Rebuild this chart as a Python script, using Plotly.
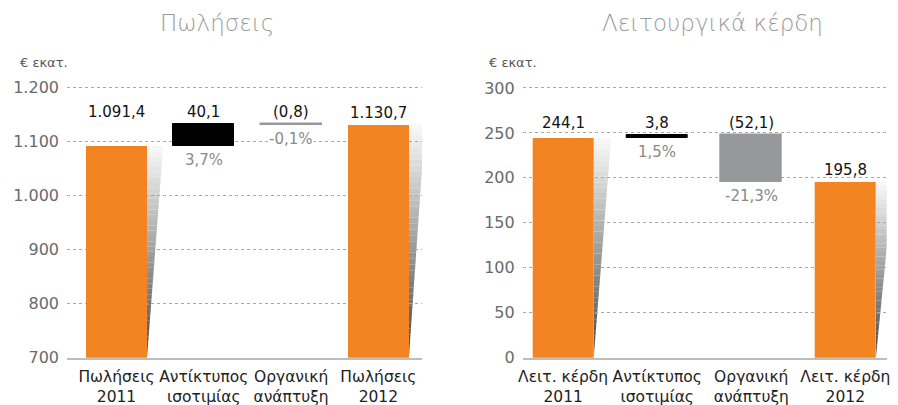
import plotly.graph_objects as go

# ---------------- data ----------------
sales_categories = ["Πωλήσεις<br>2011", "Αντίκτυπος<br>ισοτιμίας", "Οργανική<br>ανάπτυξη", "Πωλήσεις<br>2012"]
sales_start = 1091.4
sales_deltas = [40.1, -0.8]
sales_end = 1130.7
sales_pct = ["3,7%", "-0,1%"]
sales_ticks = [700, 800, 900, 1000, 1100, 1200]
sales_ticktext = ["700", "800", "900", "1.000", "1.100", "1.200"]

profit_categories = ["Λειτ. κέρδη<br>2011", "Αντίκτυπος<br>ισοτιμίας", "Οργανική<br>ανάπτυξη", "Λειτ. κέρδη<br>2012"]
profit_start = 244.1
profit_deltas = [3.8, -52.1]
profit_end = 195.8
profit_pct = ["1,5%", "-21,3%"]
profit_ticks = [0, 50, 100, 150, 200, 250, 300]
profit_ticktext = ["0", "50", "100", "150", "200", "250", "300"]

titles = ["Πωλήσεις", "Λειτουργικά κέρδη"]
unit_label = "€ εκατ."

# ---------------- styles ----------------
ORANGE = "#F28422"
BLACK = "#000000"
GREY = "#97989b"
FONT = "DejaVu Sans"


def fmt(v):
    s = f"{abs(v):,.1f}".replace(",", "X").replace(".", ",").replace("X", ".")
    return s


fig = go.Figure()

panels = [
    dict(start=sales_start, deltas=sales_deltas, end=sales_end, pct=sales_pct,
         cats=sales_categories, ticks=sales_ticks, ticktext=sales_ticktext,
         yrange=[700, 1215], xrange=[-0.567, 3.5], width=0.70,
         xdom=[67 / 898, 422 / 898], xa="x", ya="y", title=titles[0],
         title_x=217 / 898, unit_x=18 / 898),
    dict(start=profit_start, deltas=profit_deltas, end=profit_end, pct=profit_pct,
         cats=profit_categories, ticks=profit_ticks, ticktext=profit_ticktext,
         yrange=[0, 310], xrange=[-0.43, 3.44], width=0.65,
         xdom=[522.7 / 898, 886.7 / 898], xa="x2", ya="y2", title=titles[1],
         title_x=712 / 898, unit_x=487 / 898),
]

ydom = [1 - 357.7 / 405, 1 - 79 / 405]
shapes = []
annotations = []

for i, p in enumerate(panels):
    d1, d2 = p["deltas"]
    ys = [p["start"], d1, d2, p["end"]]
    bases = [0, p["start"], p["start"] + d1, 0]
    xs = [0, 1, 2, 3]
    colors = [ORANGE, BLACK, GREY, ORANGE]
    lw = [0, 1, 1.4, 0]
    fig.add_trace(go.Bar(
        x=xs, y=ys, base=bases, width=p["width"],
        marker=dict(color=colors, line=dict(color=colors, width=lw)),
        xaxis=p["xa"], yaxis=p["ya"], showlegend=False, hoverinfo="skip",
    ))

    xref = p["xa"]
    yref = p["ya"]
    ymin = p["yrange"][0]

    # shadow wedges to the right of the total bars
    for k in (0, 3):
        top = bases[k] + ys[k]
        xr = xs[k] + p["width"] / 2
        off = 0.185
        n = 40
        for j in range(n):
            f0 = j / n
            f1 = (j + 1) / n
            y0 = top - (top - ymin) * f0
            y1 = top - (top - ymin) * f1
            w0 = off * (1 - f0)
            w1 = off * (1 - f1)
            c = int(250 - (250 - 70) * ((f0 + f1) / 2))
            shapes.append(dict(
                type="path", xref=xref, yref=yref, layer="below",
                path=f"M {xr},{y0} L {xr + w0},{y0} L {xr + w1},{y1} L {xr},{y1} Z",
                fillcolor=f"rgb({c},{c},{c})", line=dict(width=0),
            ))

    # value labels
    tops = [max(bases[k], bases[k] + ys[k]) for k in range(4)]
    bottoms = [min(bases[k], bases[k] + ys[k]) for k in range(4)]
    label_y = [max(tops[0], tops[1]), tops[1], tops[2], tops[3]]
    texts = [fmt(ys[0]), fmt(d1) if d1 >= 0 else f"({fmt(d1)})",
             fmt(d2) if d2 >= 0 else f"({fmt(d2)})", fmt(ys[3])]
    for k in range(4):
        annotations.append(dict(
            x=xs[k], y=label_y[k], xref=xref, yref=yref, text=texts[k],
            showarrow=False, yanchor="middle", yshift=12,
            font=dict(family=FONT, size=15, color="#111111"),
        ))
    for k, t in zip((1, 2), p["pct"]):
        annotations.append(dict(
            x=xs[k], y=bottoms[k], xref=xref, yref=yref, text=t,
            showarrow=False, yanchor="middle", yshift=-14,
            bgcolor="white", borderpad=0,
            font=dict(family=FONT, size=15, color="#8a8a8a"),
        ))

    # titles and unit labels
    annotations.append(dict(
        x=p["title_x"], y=1 - 23 / 405, xref="paper", yref="paper", text=p["title"],
        showarrow=False, xanchor="center", yanchor="middle",
        font=dict(family=FONT, size=23, color="#9a9a9a", weight=300),
    ))
    annotations.append(dict(
        x=p["unit_x"], y=1 - 62 / 405, xref="paper", yref="paper", text=unit_label,
        showarrow=False, xanchor="left", yanchor="middle",
        font=dict(family=FONT, size=13, color="#555555"),
    ))

    axis_suffix = "" if i == 0 else "2"
    fig.update_layout(**{
        f"xaxis{axis_suffix}": dict(
            domain=p["xdom"], range=p["xrange"], tickmode="array",
            tickvals=[0, 1, 2, 3], ticktext=p["cats"], showgrid=False,
            zeroline=False, showline=True, linecolor="#bdbdbd", linewidth=2,
            ticks="", ticklabelstandoff=4, automargin=False, tickangle=0,
            tickfont=dict(family=FONT, size=15.5, color="#222222"),
            anchor=p["ya"], fixedrange=True,
        ),
        f"yaxis{axis_suffix}": dict(
            domain=ydom, range=p["yrange"], tickmode="array",
            tickvals=p["ticks"], ticktext=p["ticktext"], showgrid=True,
            gridcolor="#a8a8a8", griddash="dot", gridwidth=1, zeroline=False,
            showline=False, ticks="", ticklabelstandoff=7, automargin=False,
            tickfont=dict(family=FONT, size=16, color="#6a6a6a"),
            anchor=p["xa"], fixedrange=True,
        ),
    })

fig.update_layout(
    width=898, height=405,
    margin=dict(l=0, r=0, t=0, b=0),
    paper_bgcolor="white", plot_bgcolor="white",
    shapes=shapes, annotations=annotations,
    showlegend=False, bargap=0,
)

fig.write_html(
    "out.html",
    config={"displayModeBar": False},
    post_script="document.body.style.margin='0';document.body.style.overflow='hidden';",
)
